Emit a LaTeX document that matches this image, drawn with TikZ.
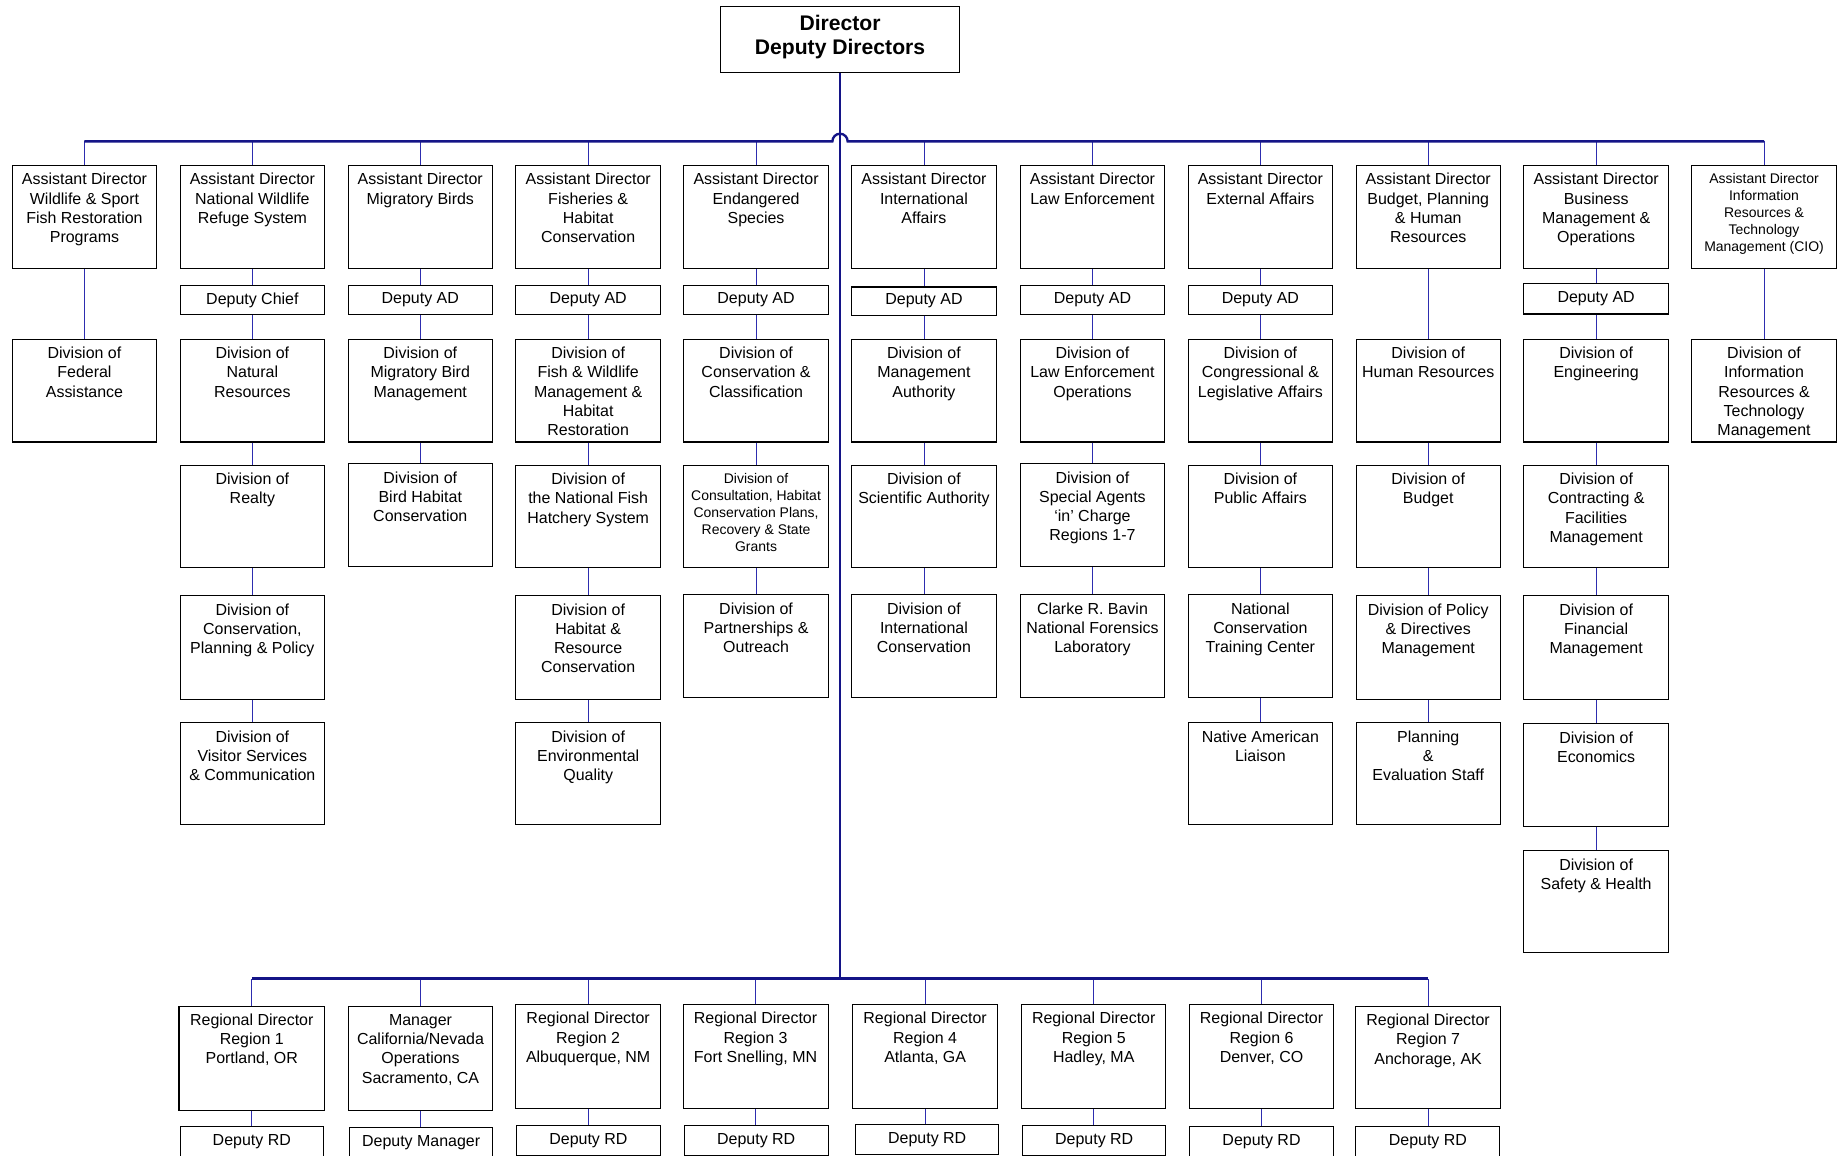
\documentclass[tikz,border=0pt]{standalone}
\usepackage{fontspec}
\setmainfont{Liberation Sans}
\usetikzlibrary{calc}
\definecolor{busc}{RGB}{20,20,135}
\definecolor{conc}{RGB}{45,45,175}
\tikzset{
  obox/.style={draw=black, line width=0.9pt, fill=white, inner sep=0pt, anchor=north west,
    font=\fontsize{13.6}{16.3}\selectfont},
  otxt/.style={inner sep=0pt, align=center, anchor=north, font=\fontsize{13.6}{16.3}\selectfont},
  stxt/.style={otxt, font=\fontsize{11.9}{14.5}\selectfont},
  bus/.style={draw=busc, line width=2pt},
  conn/.style={draw=conc, line width=0.8pt},
}
\newcommand\ob[7][otxt]{%
  \node[obox, minimum width=#5, minimum height=#6] (#2) at (#3,#4) {};
  \node[#1] (#2t) at ([yshift=-7pt]#2.north) {#7};}
\newcommand\db[6]{%
  \node[obox, minimum width=#4, minimum height=#5] (#1) at (#2,#3) {#6};}
\begin{document}
\begin{tikzpicture}[x=1pt,y=-1pt]
\useasboundingbox (0,0) rectangle (1568,984);
\fill[white] (0,0) rectangle (1568,984);
\clip (0,0) rectangle (1568,984);

% Director
\node[obox, minimum width=204, minimum height=56] (dir) at (613,5) {};
\node[inner sep=0pt, align=center, font=\fontsize{18}{21}\bfseries\selectfont]
  (dirt) at ([yshift=2pt]dir.center) {Director\\Deputy Directors};

% Assistant directors
\ob{a1}{10}{140.5}{123}{87.5}{Assistant Director\\Wildlife \& Sport\\Fish Restoration\\Programs}
\ob{a2}{153}{140.5}{123}{87.5}{Assistant Director\\National Wildlife\\Refuge System}
\ob{a3}{296}{140.5}{123}{87.5}{Assistant Director\\Migratory Birds}
\ob{a4}{439}{140.5}{123}{87.5}{Assistant Director\\Fisheries \&\\Habitat\\Conservation}
\ob{a5}{582}{140.5}{123}{87.5}{Assistant Director\\Endangered\\Species}
\ob{a6}{725}{140.5}{123}{87.5}{Assistant Director\\International\\Affairs}
\ob{a7}{868.5}{140.5}{123}{87.5}{Assistant Director\\Law Enforcement}
\ob{a8}{1011.5}{140.5}{123}{87.5}{Assistant Director\\External Affairs}
\ob{a9}{1154.5}{140.5}{123}{87.5}{Assistant Director\\Budget, Planning\\\& Human\\Resources}
\ob{a10}{1297.5}{140.5}{123}{87.5}{Assistant Director\\Business\\Management \&\\Operations}
\ob[stxt]{a11}{1440.5}{140.5}{123}{87.5}{Assistant Director\\Information\\Resources \&\\Technology\\Management (CIO)}

% Deputies
\db{d2}{153}{242.5}{123}{25}{Deputy Chief}
\db{d3}{296}{242.5}{123}{25}{Deputy AD}
\db{d4}{439}{242.5}{123}{25}{Deputy AD}
\db{d5}{582}{242.5}{123}{25}{Deputy AD}
\db{d6}{725}{244}{123}{24}{Deputy AD}
\db{d7}{868.5}{242.5}{123}{25}{Deputy AD}
\db{d8}{1011.5}{242.5}{123}{25}{Deputy AD}
\db{d10}{1297.5}{241}{123}{26}{Deputy AD}

% Row 2
\ob{b1}{10}{288.5}{123}{87.5}{Division of\\Federal\\Assistance}
\ob{b2}{153}{288.5}{123}{87.5}{Division of\\Natural\\Resources}
\ob{b3}{296}{288.5}{123}{87.5}{Division of\\Migratory Bird\\Management}
\ob{b4}{439}{288.5}{123}{87.5}{Division of\\Fish \& Wildlife\\Management \&\\Habitat\\Restoration}
\ob{b5}{582}{288.5}{123}{87.5}{Division of\\Conservation \&\\Classification}
\ob{b6}{725}{288.5}{123}{87.5}{Division of\\Management\\Authority}
\ob{b7}{868.5}{288.5}{123}{87.5}{Division of\\Law Enforcement\\Operations}
\ob{b8}{1011.5}{288.5}{123}{87.5}{Division of\\Congressional \&\\Legislative Affairs}
\ob{b9}{1154.5}{288.5}{123}{87.5}{Division of\\Human Resources}
\ob{b10}{1297.5}{288.5}{123}{87.5}{Division of\\Engineering}
\ob{b11}{1440.5}{288.5}{123}{87.5}{Division of\\Information\\Resources \&\\Technology\\Management}

% Row 3
\ob{c2}{153}{395.8}{123}{87.4}{Division of\\Realty}
\ob{c3}{296}{394.6}{123}{87.4}{Division of\\Bird Habitat\\Conservation}
\ob{c4}{439}{395.8}{123}{87.4}{Division of\\the National Fish\\Hatchery System}
\ob[stxt]{c5}{582}{395.8}{123}{87.4}{Division of\\Consultation, Habitat\\Conservation Plans,\\Recovery \& State\\Grants}
\ob{c6}{725}{395.8}{123}{87.4}{Division of\\Scientific Authority}
\ob{c7}{868.5}{394.6}{123}{87.4}{Division of\\Special Agents\\‘in’ Charge\\Regions 1-7}
\ob{c8}{1011.5}{395.8}{123}{87.4}{Division of\\Public Affairs}
\ob{c9}{1154.5}{395.8}{123}{87.4}{Division of\\Budget}
\ob{c10}{1297.5}{395.8}{123}{87.4}{Division of\\Contracting \&\\Facilities\\Management}

% Row 4
\ob{e2}{153}{507}{123}{88}{Division of\\Conservation,\\Planning \& Policy}
\ob{e4}{439}{507}{123}{88}{Division of\\Habitat \&\\Resource\\Conservation}
\ob{e5}{582}{506}{123}{87.5}{Division of\\Partnerships \&\\Outreach}
\ob{e6}{725}{506}{123}{87.5}{Division of\\International\\Conservation}
\ob{e7}{868.5}{506}{123}{87.5}{Clarke R. Bavin\\National Forensics\\Laboratory}
\ob{e8}{1011.5}{506}{123}{87.5}{National\\Conservation\\Training Center}
\ob{e9}{1154.5}{507}{123}{88}{Division of Policy\\\& Directives\\Management}
\ob{e10}{1297.5}{507}{123}{88}{Division of\\Financial\\Management}

% Row 5
\ob{f2}{153}{615}{123}{87}{Division of\\Visitor Services\\\& Communication}
\ob{f4}{439}{615}{123}{87}{Division of\\Environmental\\Quality}
\ob{f8}{1011.5}{615}{123}{87}{Native American\\Liaison}
\ob{f9}{1154.5}{615}{123}{87}{Planning\\\&\\Evaluation Staff}
\ob{f10}{1297.5}{616}{123}{87.5}{Division of\\Economics}

% Row 6
\ob{g10}{1297.5}{724}{123}{87}{Division of\\Safety \& Health}

% Regional directors
\ob{r1}{152}{856.5}{124}{88.5}{Regional Director\\Region 1\\Portland, OR}
\ob{r2}{296}{857}{123.4}{88}{Manager\\California/Nevada\\Operations\\Sacramento, CA}
\ob{r3}{439}{855}{123}{88.4}{Regional Director\\Region 2\\Albuquerque, NM}
\ob{r4}{581.3}{855}{123.5}{88.5}{Regional Director\\Region 3\\Fort Snelling, MN}
\ob{r5}{726}{855}{123}{88.5}{Regional Director\\Region 4\\Atlanta, GA}
\ob{r6}{869.6}{855}{123}{88.6}{Regional Director\\Region 5\\Hadley, MA}
\ob{r7}{1012.5}{855}{123}{88.6}{Regional Director\\Region 6\\Denver, CO}
\ob{r8}{1154.4}{856.6}{123}{87.4}{Regional Director\\Region 7\\Anchorage, AK}

\db{q1}{153}{959.3}{122}{25.5}{Deputy RD}
\db{q2}{297.5}{960}{121.5}{25.5}{Deputy Manager}
\db{q3}{439.6}{958.2}{122.2}{25.5}{Deputy RD}
\db{q4}{582.4}{958.2}{122.4}{25.5}{Deputy RD}
\db{q5}{728.5}{957.6}{121.5}{25.5}{Deputy RD}
\db{q6}{870.5}{958}{122}{25.5}{Deputy RD}
\db{q7}{1013}{959}{122}{25.5}{Deputy RD}
\db{q8}{1154.4}{959}{122.6}{25.5}{Deputy RD}

% bus levels
\coordinate (tb) at (0,120.4);
\coordinate (rb) at (0,833.5);

% thin connectors
\foreach \n in {a1,a2,a3,a4,a5,a6,a7,a8,a9,a10,a11}
  \draw[conn] (\n.north) -- (\n.north |- tb);
\foreach \u/\v in {a1/b1,a9/b9,a11/b11,
    a2/d2,d2/b2,a3/d3,d3/b3,a4/d4,d4/b4,a5/d5,d5/b5,a6/d6,d6/b6,
    a7/d7,d7/b7,a8/d8,d8/b8,a10/d10,d10/b10,
    b2/c2,c2/e2,e2/f2, b3/c3, b4/c4,c4/e4,e4/f4, b5/c5,c5/e5,
    b6/c6,c6/e6, b7/c7,c7/e7, b8/c8,c8/e8,e8/f8, b9/c9,c9/e9,e9/f9,
    b10/c10,c10/e10,e10/f10,f10/g10}
  \draw[conn] (\u.south) -- (\u.south |- \v.north);
\foreach \n in {1,...,8}{
  \draw[conn] (r\n.north) -- (r\n.north |- rb);
  \draw[conn] (r\n.south) -- (r\n.south |- q\n.north);
}

% buses
\draw[bus] (a1.north |- tb) -- ($(dir.south |- tb)+(-6.5pt,0)$) arc(180:0:6.5pt)
  -- (a11.north |- tb);
\draw[bus] (dir.south) -- (dir.south |- rb);
\draw[bus] (r1.north |- rb) -- (r8.north |- rb);
\end{tikzpicture}
\end{document}
